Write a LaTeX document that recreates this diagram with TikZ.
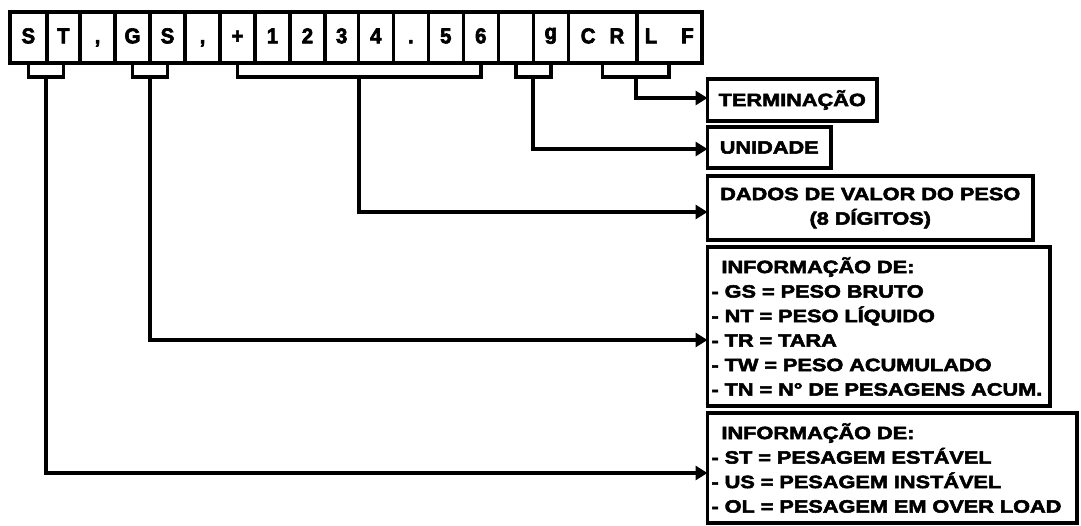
\documentclass[tikz,border=0pt]{standalone}
\usepackage{fontspec}
\setmainfont{Liberation Sans}[FakeStretch=1.22, BoldFeatures={FakeBold=3}]
\newfontfamily\cellfont{Liberation Sans}[FakeStretch=0.95, BoldFeatures={FakeBold=3}]
\usetikzlibrary{arrows.meta,calc}
\begin{document}
\begin{tikzpicture}[x=1pt,y=-1pt,
  every node/.style={font=\fontsize{17.8}{24.5}\selectfont\bfseries},
  cell/.style={draw, line width=3.6pt, outer sep=0pt, inner sep=0pt, minimum height=51pt,
    anchor=north west, text height=15.6pt, text depth=4pt,
    font=\cellfont\fontsize{21.5}{24}\selectfont\bfseries},
  bracket/.style={line width=3.6pt},
  conn/.style={line width=3.8pt, -{Triangle[length=12pt,width=14pt]}},
  box/.style={draw, line width=3.6pt, outer sep=0pt, anchor=north west, inner sep=0pt},
  listbox/.style={box, align=left, inner xsep=4pt},
]
\useasboundingbox (0,0) rectangle (1081,525);

% top row of characters
\node[cell, minimum width=36.7pt] (c1) at (10,12) {S};
\node[cell, minimum width=33.3pt] (c2) at (46.7,12) {T};
\node[cell, minimum width=35pt] (c3) at (80,12) {,};
\node[cell, minimum width=35pt] (c4) at (115,12) {G};
\node[cell, minimum width=35pt] (c5) at (150,12) {S};
\node[cell, minimum width=35pt] (c6) at (185,12) {,};
\node[cell, minimum width=35pt] (c7) at (220,12) {+};
\node[cell, minimum width=35pt] (c8) at (255,12) {1};
\node[cell, minimum width=35pt] (c9) at (290,12) {2};
\node[cell, minimum width=33.3pt] (c10) at (325,12) {3};
\node[cell, minimum width=35pt] (c11) at (358.3,12) {4};
\node[cell, minimum width=35pt] (c12) at (393.3,12) {.};
\node[cell, minimum width=35pt] (c13) at (428.3,12) {5};
\node[cell, minimum width=35pt] (c14) at (463.3,12) {6};
\node[cell, minimum width=35pt] (c15) at (498.3,12) {};
\node[cell, minimum width=35pt] (c16) at (533.3,12) {\raisebox{4pt}{g}};
\node[cell, minimum width=68.4pt] (c17) at (568.3,12) {C\hspace{14pt}R};
\node[cell, minimum width=65pt] (c18) at (636.7,12) {L\hspace{24pt}F};

% brackets
\draw[bracket] (c1.south) -- ++(0,14) -| (c2.south);
\draw[bracket] (c4.south) -- ++(0,14) -| (c5.south);
\draw[bracket] (c7.south) -- ++(0,14) -| (c14.south);
\draw[bracket] (c15.south) -- ++(0,14) -| (c16.south);
\draw[bracket] (c17.south) -- ++(0,14) -| (c18.south);

\coordinate (bST) at ($(c1.south)!0.5!(c2.south)+(0,14)$);
\coordinate (bGS) at ($(c4.south)!0.5!(c5.south)+(0,14)$);
\coordinate (bVal) at ($(c7.south)!0.5!(c14.south)+(0,14)$);
\coordinate (bUnit) at ($(c15.south)!0.5!(c16.south)+(0,14)$);
\coordinate (bTerm) at ($(c17.south)!0.5!(c18.south)+(0,14)$);

% boxes
\node[box, minimum width=169.5pt, minimum height=42pt] (term) at (707.5,79) {TERMINAÇÃO};
\node[box, minimum width=123.5pt, minimum height=41pt] (unid) at (707.5,127) {UNIDADE};
\node[box, align=center, minimum width=325.5pt, minimum height=64pt] (dados) at (707.5,176)
  {DADOS DE VALOR DO PESO\\(8 DÍGITOS)};
\node[listbox, text width=334.5pt, minimum width=342.5pt, minimum height=159pt] (gs) at (707.5,247)
  {\mbox{\hspace*{10pt}INFORMAÇÃO DE:}\\
   \mbox{- GS = PESO BRUTO}\\
   \mbox{- NT = PESO LÍQUIDO}\\
   \mbox{- TR = TARA}\\
   \mbox{- TW = PESO ACUMULADO}\\
   \mbox{- TN = N° DE PESAGENS ACUM.}};
\node[listbox, text width=361.5pt, minimum width=369.5pt, minimum height=110pt] (st) at (707.5,413)
  {\mbox{\hspace*{10pt}INFORMAÇÃO DE:}\\
   \mbox{- ST = PESAGEM ESTÁVEL}\\
   \mbox{- US = PESAGEM INSTÁVEL}\\
   \mbox{- OL = PESAGEM EM OVER LOAD}};

% connectors
\draw[conn] (bTerm) |- ([yshift=2pt]term.west);
\draw[conn] (bUnit) |- ([yshift=-1.5pt]unid.west);
\draw[conn] (bVal) |- ([yshift=-4pt]dados.west);
\draw[conn] (bGS) |- ([yshift=-13.5pt]gs.west);
\draw[conn] (bST) |- ([yshift=-5pt]st.west);
\end{tikzpicture}
\end{document}
